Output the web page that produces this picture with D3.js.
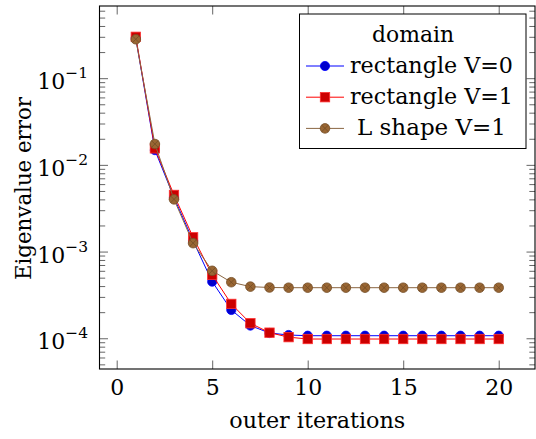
<!DOCTYPE html>
<html>
<head>
<style>
  body { margin: 0; background: #fff; }
  svg text { font-family: "DejaVu Serif", "Liberation Serif", serif; fill: #000; }
  .tick line { stroke: #555; stroke-width: 0.9px; }
  .frame { fill: none; stroke: #000; stroke-width: 1.1px; }
</style>
</head>
<body>
<script src="https://d3js.org/d3.v7.min.js"></script>
<script>
// data
var iterations = [1, 2, 3, 4, 5, 6, 7, 8, 9, 10, 11, 12, 13, 14, 15, 16, 17, 18, 19, 20];
var rectV0 = [0.29, 0.0148, 0.0042, 0.00133, 4.5e-4, 2.12e-4, 1.4e-4, 1.15e-4, 1.09e-4, 1.07e-4,
              1.07e-4, 1.07e-4, 1.07e-4, 1.07e-4, 1.07e-4, 1.07e-4, 1.07e-4, 1.07e-4, 1.07e-4, 1.07e-4];
var rectV1 = [0.30, 0.0155, 0.0045, 0.00146, 5.4e-4, 2.49e-4, 1.49e-4, 1.16e-4, 1.03e-4, 9.8e-5,
              9.8e-5, 9.8e-5, 9.8e-5, 9.8e-5, 9.8e-5, 9.8e-5, 9.8e-5, 9.8e-5, 9.8e-5, 9.8e-5];
var lShapeV1 = [0.281, 0.0174, 0.0040, 0.00125, 6.0e-4, 4.43e-4, 3.94e-4, 3.85e-4, 3.83e-4, 3.83e-4,
                3.83e-4, 3.83e-4, 3.83e-4, 3.83e-4, 3.83e-4, 3.83e-4, 3.83e-4, 3.83e-4, 3.83e-4, 3.83e-4];
var seriesNames = ["rectangle V=0", "rectangle V=1", "L shape V=1"];
var xTicks = [0, 5, 10, 15, 20];
var yDecades = [1e-4, 1e-3, 1e-2, 1e-1];
var yExponents = ["\u22124", "\u22123", "\u22122", "\u22121"];
var legendTitle = "domain";

// layout
var width = 536, height = 439;
var plot = { left: 99.5, right: 535, top: 6, bottom: 369 };

var svg = d3.select("body").append("svg")
    .attr("width", width)
    .attr("height", height);

var x = d3.scaleLinear().domain([-0.9, 21.9]).range([plot.left, plot.right]);
var y = d3.scaleLog().domain([4.42e-5, 0.68]).range([plot.bottom, plot.top]);

// minor ticks 2..9 per decade inside the domain
var yMinor = [];
[-5, -4, -3, -2, -1].forEach(function(e) {
    for (var m = 2; m <= 9; m++) {
        var v = m * Math.pow(10, e);
        if (v > y.domain()[0] && v < y.domain()[1]) yMinor.push(v);
    }
});

function noDomain(g) { g.select(".domain").remove(); }

// x ticks bottom + top
svg.append("g")
    .attr("transform", "translate(0," + plot.bottom + ")")
    .call(d3.axisBottom(x).tickValues(xTicks).tickSize(-8.5).tickPadding(10))
    .call(noDomain)
    .attr("font-size", 22)
    .attr("font-family", null);
svg.append("g")
    .attr("transform", "translate(0," + plot.top + ")")
    .call(d3.axisTop(x).tickValues(xTicks).tickSize(-8.5).tickFormat(""))
    .call(noDomain);

// y ticks left + right
svg.append("g")
    .attr("transform", "translate(" + plot.left + ",0)")
    .call(d3.axisLeft(y).tickValues(yDecades).tickSize(-8.5).tickFormat(""))
    .call(noDomain);
svg.append("g")
    .attr("transform", "translate(" + plot.left + ",0)")
    .call(d3.axisLeft(y).tickValues(yMinor).tickSize(-5.7).tickFormat(""))
    .call(noDomain);
svg.append("g")
    .attr("transform", "translate(" + plot.right + ",0)")
    .call(d3.axisRight(y).tickValues(yDecades).tickSize(-8.5).tickFormat(""))
    .call(noDomain);
svg.append("g")
    .attr("transform", "translate(" + plot.right + ",0)")
    .call(d3.axisRight(y).tickValues(yMinor).tickSize(-5.7).tickFormat(""))
    .call(noDomain);

// y labels 10^-k
var ylab = svg.append("g").selectAll("text")
    .data(yDecades)
    .join("text")
    .attr("x", 88)
    .attr("y", function(d) { return y(d) + 11; })
    .attr("text-anchor", "end")
    .attr("font-size", 22);
ylab.append("tspan").text("10");
ylab.append("tspan")
    .attr("font-size", 15.5)
    .attr("dy", -11)
    .text(function(d, i) { return yExponents[i]; });

// frame
svg.append("rect")
    .attr("class", "frame")
    .attr("x", plot.left)
    .attr("y", plot.top)
    .attr("width", plot.right - plot.left)
    .attr("height", plot.bottom - plot.top);

// axis titles
svg.append("text")
    .attr("x", (plot.left + plot.right) / 2)
    .attr("y", 428)
    .attr("text-anchor", "middle")
    .attr("font-size", 22)
    .attr("textLength", 176)
    .attr("lengthAdjust", "spacingAndGlyphs")
    .text("outer iterations");
svg.append("text")
    .attr("transform", "translate(31," + 188.5 + ") rotate(-90)")
    .attr("text-anchor", "middle")
    .attr("font-size", 22)
    .attr("textLength", 183)
    .attr("lengthAdjust", "spacingAndGlyphs")
    .text("Eigenvalue error");

// series
var series = [
    { name: seriesNames[0], values: rectV0, line: "#0000ff", fill: "#0000cc", stroke: "#0000ff", mark: "circle" },
    { name: seriesNames[1], values: rectV1, line: "#ff0000", fill: "#cc0000", stroke: "#ff3030", mark: "square" },
    { name: seriesNames[2], values: lShapeV1, line: "#8a6642", fill: "#996633", stroke: "#734d26", mark: "otimes" }
];

var line = d3.line()
    .x(function(d) { return x(d[0]); })
    .y(function(d) { return y(d[1]); });

function drawMark(g, s) {
    if (s.mark === "circle") {
        g.append("circle").attr("r", 4.6)
            .attr("fill", s.fill).attr("stroke", s.stroke).attr("stroke-width", 0.8);
    } else if (s.mark === "square") {
        g.append("rect").attr("x", -4.7).attr("y", -4.7).attr("width", 9.4).attr("height", 9.4)
            .attr("fill", s.fill).attr("stroke", s.stroke).attr("stroke-width", 0.8);
    } else {
        g.append("circle").attr("r", 4.8)
            .attr("fill", s.fill).attr("stroke", s.stroke).attr("stroke-width", 0.8);
        var r = 4.8 * Math.SQRT1_2;
        g.append("path")
            .attr("d", "M" + (-r) + "," + (-r) + "L" + r + "," + r + "M" + (-r) + "," + r + "L" + r + "," + (-r))
            .attr("stroke", s.stroke).attr("stroke-width", 0.8);
    }
}

series.forEach(function(s) {
    var pts = iterations.map(function(it, i) { return [it, s.values[i]]; });
    var g = svg.append("g");
    g.append("path")
        .datum(pts)
        .attr("fill", "none")
        .attr("stroke", s.line)
        .attr("stroke-width", 1)
        .attr("d", line);
    g.selectAll("g.mark")
        .data(pts)
        .join("g")
        .attr("class", "mark")
        .attr("transform", function(d) { return "translate(" + x(d[0]) + "," + y(d[1]) + ")"; })
        .each(function() { drawMark(d3.select(this), s); });
});

// legend
var legend = svg.append("g");
legend.append("rect")
    .attr("x", 299.5).attr("y", 14)
    .attr("width", 226.5).attr("height", 134.5)
    .attr("fill", "#fff").attr("stroke", "#000").attr("stroke-width", 1);
legend.append("text")
    .attr("x", 413).attr("y", 41.5)
    .attr("text-anchor", "middle")
    .attr("font-size", 22)
    .attr("textLength", 82)
    .attr("lengthAdjust", "spacingAndGlyphs")
    .text(legendTitle);
var entryWidths = [163, 163, 149];
series.forEach(function(s, i) {
    var cy = 66 + i * 31.2;
    legend.append("line")
        .attr("x1", 306).attr("x2", 344).attr("y1", cy).attr("y2", cy)
        .attr("stroke", s.line).attr("stroke-width", 1);
    var m = legend.append("g").attr("transform", "translate(325," + cy + ")");
    drawMark(m, s);
    legend.append("text")
        .attr("x", 431.5).attr("y", cy + 7)
        .attr("text-anchor", "middle")
        .attr("font-size", 22)
        .attr("textLength", entryWidths[i])
        .attr("lengthAdjust", "spacingAndGlyphs")
        .text(s.name);
});
</script>
</body>
</html>
